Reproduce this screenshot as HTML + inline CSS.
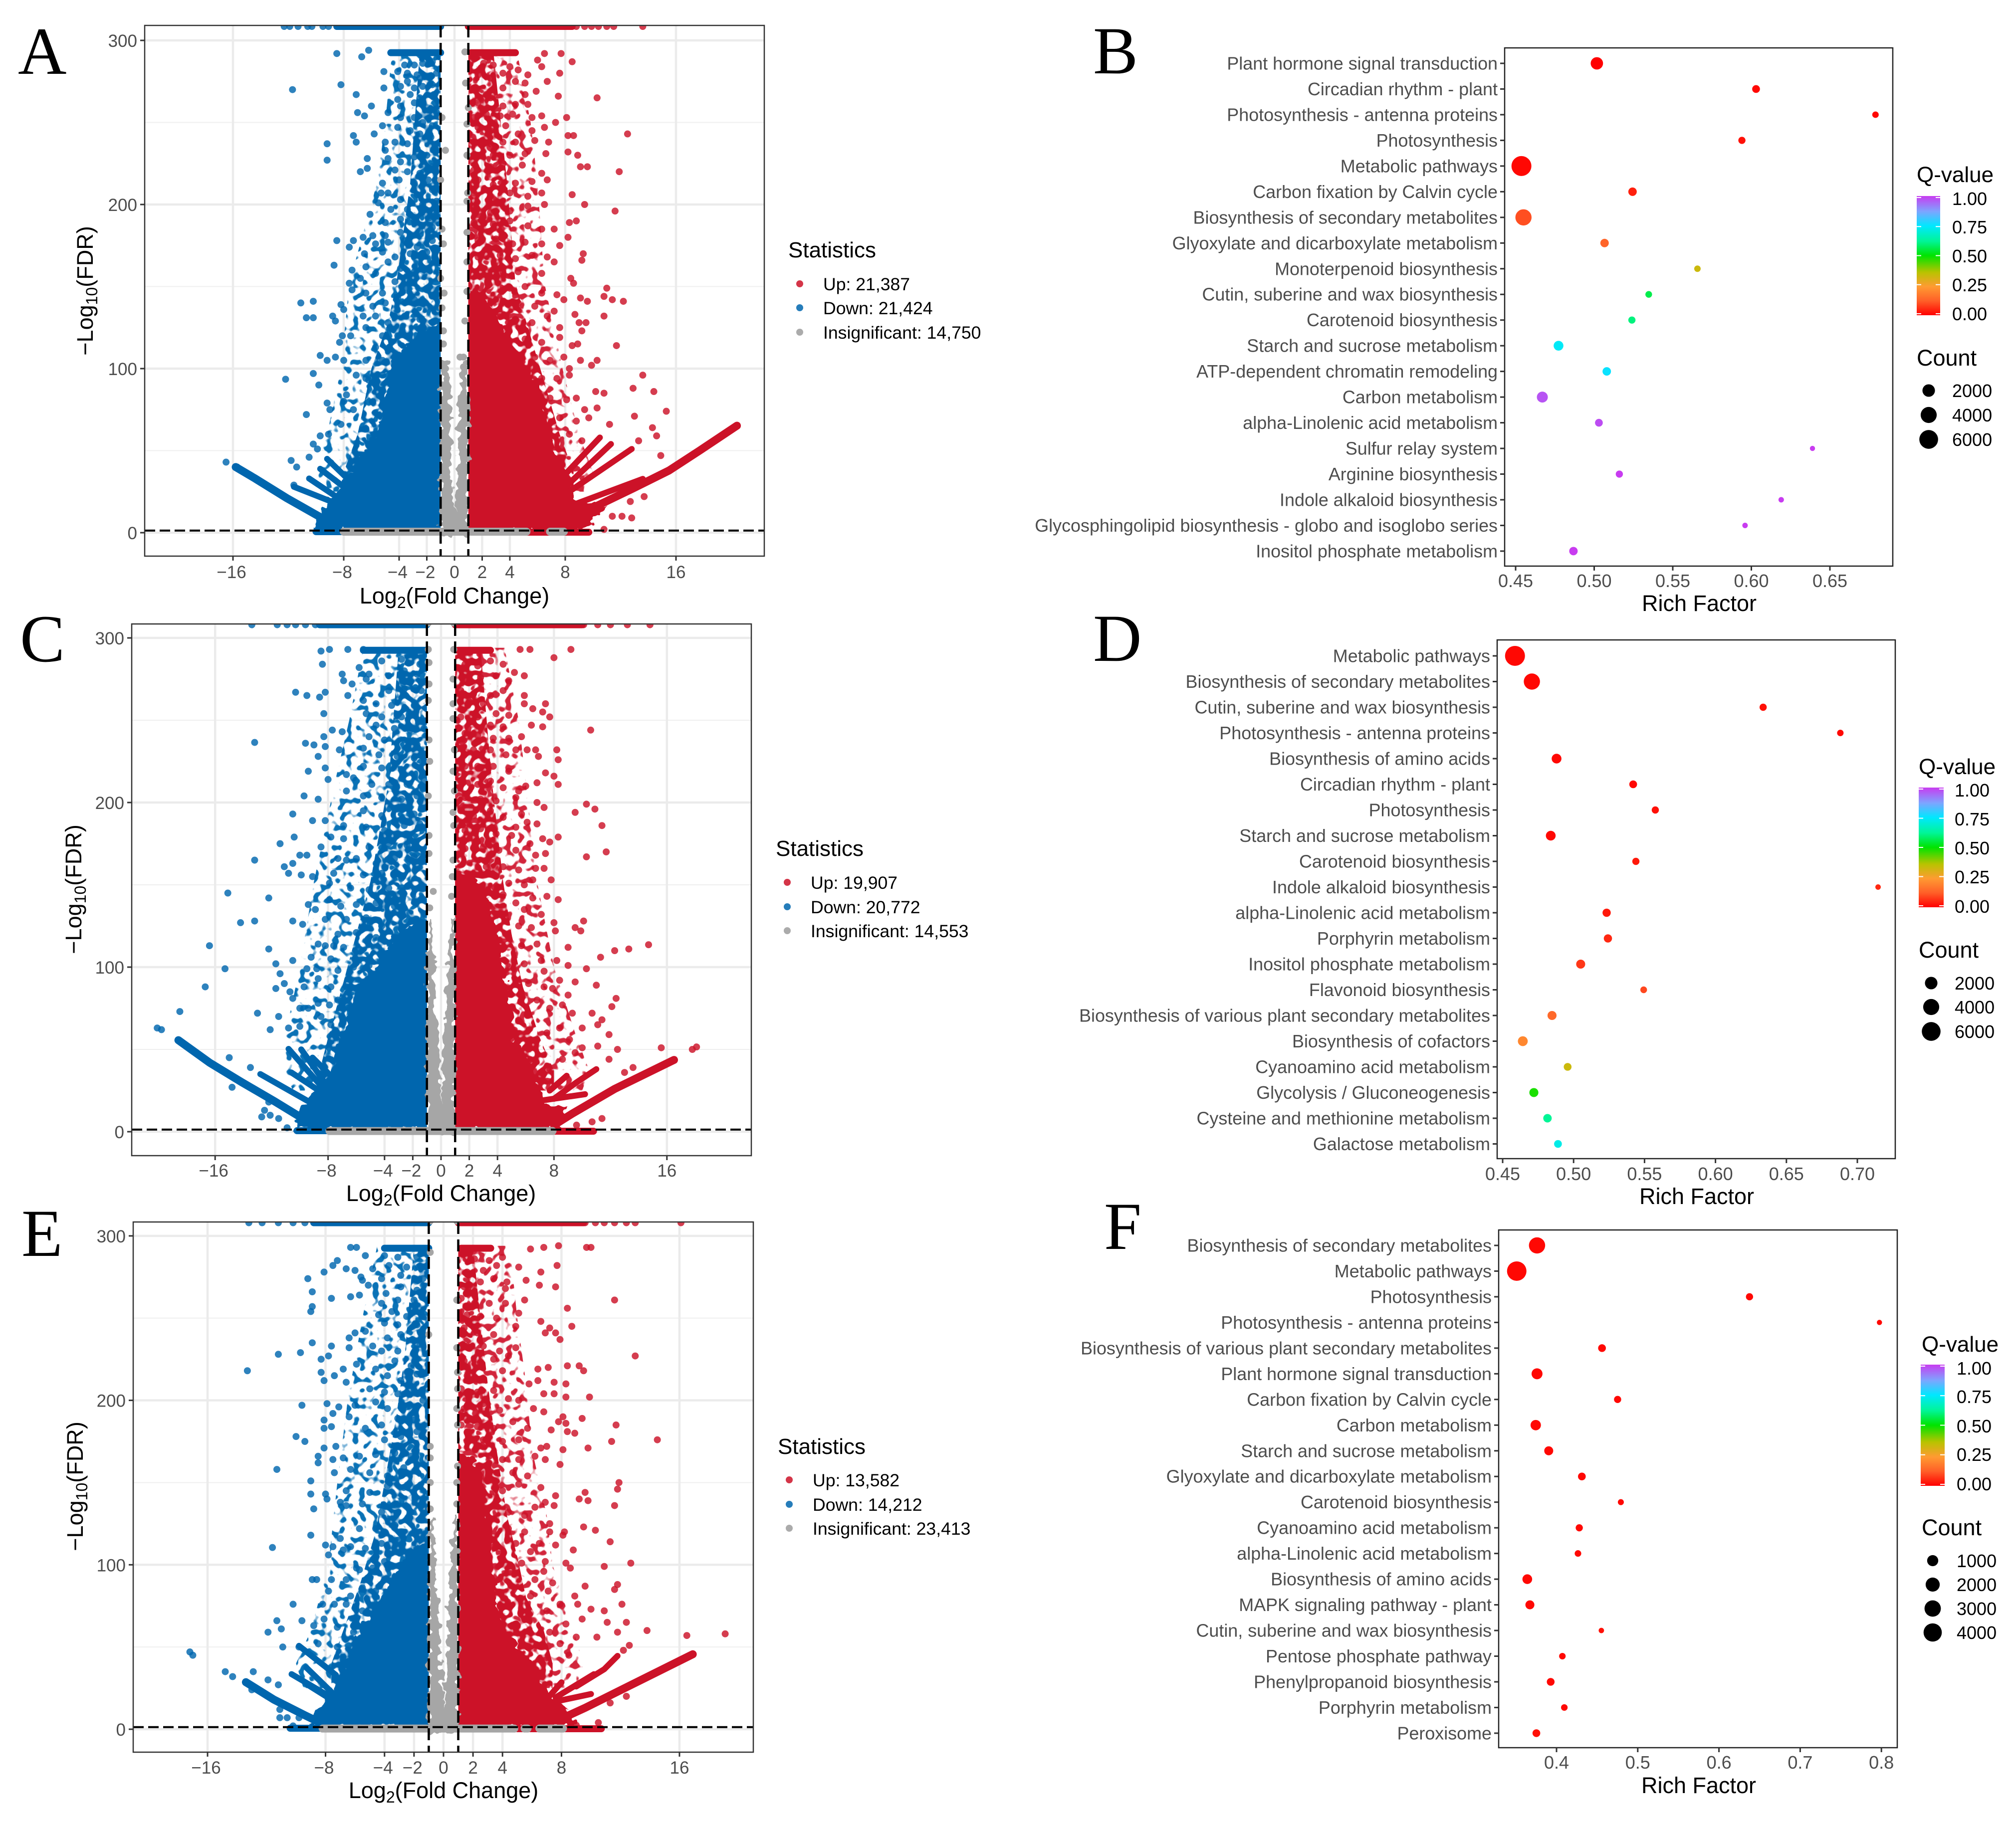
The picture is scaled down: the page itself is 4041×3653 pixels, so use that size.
<!DOCTYPE html>
<html lang="en">
<head>
<meta charset="utf-8">
<title>Volcano and KEGG enrichment panels</title>
<style>
html,body{margin:0;padding:0;background:#fff}
svg{display:block}
text{font-family:"Liberation Sans",Arial,sans-serif}
</style>
</head>
<body>
<svg id="fig" xmlns="http://www.w3.org/2000/svg" width="4041" height="3653" viewBox="0 0 4041 3653">
<rect width="4041" height="3653" fill="#fff"/>
<g font-size="135" fill="#000" style="font-family:'Liberation Serif',serif">
<text x="36" y="148" style="font-family:'Liberation Serif',serif">A</text>
<text x="2191" y="147" style="font-family:'Liberation Serif',serif">B</text>
<text x="40" y="1326" style="font-family:'Liberation Serif',serif">C</text>
<text x="2191" y="1325" style="font-family:'Liberation Serif',serif">D</text>
<text x="43" y="2518" style="font-family:'Liberation Serif',serif">E</text>
<text x="2213" y="2504" style="font-family:'Liberation Serif',serif">F</text>
</g>
</svg>
<script>
/* ===== volcano data (log2FC, -log10FDR pairs) ===== */
const volcanoXTicks=[-16,-8,-4,-2,0,2,4,8,16];
const volcanoYTicks=[0,100,200,300];
const volcanoYMinor=[50,150,250];

const aLegend=["Up: 21,387","Down: 21,424","Insignificant: 14,750"];
const cLegend=["Up: 19,907","Down: 20,772","Insignificant: 14,553"];
const eLegend=["Up: 13,582","Down: 14,212","Insignificant: 23,413"];

/* solid (fully over-plotted) regions */
const aDownSolid=[-.8,1.5,-.8,128,-3,120,-4.6,102,-4.9,87,-5.6,60,-7.5,37,-9.3,17,-10,6,-10.3,1.5];
const aUpSolid=[.8,1.5,.8,150,2.5,140,4,115,5.2,100,6.2,87,7.1,57,7.9,37,8.6,20,11,17,10,6.4,9.3,1.5];
const cDownSolid=[-.8,1.5,-.8,132,-3,122,-4.5,100,-5.9,87,-7.2,57,-7.7,37,-9.6,17,-10.2,7,-10.5,1.5];
const cUpSolid=[.8,1.5,.8,160,3,150,4,120,4.7,88,5.2,57,6.6,37,7.4,17,9,14,8.5,7,8.5,1.5];
const eDownSolid=[-.8,1.5,-.8,118,-2.5,105,-3.5,92,-4.3,80,-5.6,60,-6.6,40,-7.6,20,-8.8,10,-9.2,1.5];
const eUpSolid=[.8,1.5,.8,168,2.5,160,3,130,3.3,105,3.6,80,4.1,60,6.1,40,7.3,20,8.6,10,9,1.5];

/* mostly over-plotted regions */
const aDownMid=[-.8,294,-2.5,294,-3.2,213,-4.2,152,-4.8,128,-6,100,-7,60,-8,37,-8,25,-.8,25];
const aUpMid=[.8,294,2.8,294,3.8,213,4.4,152,5.2,128,6.2,100,7.6,60,8.6,37,8.6,25,.8,25];
const cDownMid=[-.8,294,-3,294,-3.7,213,-5,152,-6,120,-7,88,-8,57,-8.6,37,-8.6,25,-.8,25];
const cUpMid=[.8,294,2.8,294,3.6,213,4.4,152,5,120,5.8,88,7,57,8,37,8,25,.8,25];
const eDownMid=[-.8,294,-2,294,-2.6,230,-3.2,190,-4,150,-4.6,120,-5.6,90,-6.8,60,-7.6,40,-7.6,25,-.8,25];
const eUpMid=[.8,294,2,294,2.5,250,3,210,3.6,170,4.3,130,5,105,5.6,80,6.8,60,7.4,40,7.4,25,.8,25];

/* loosely scattered regions */
const aDownOuter=[-.8,294,-4.5,294,-5,250,-5.6,213,-7.6,152,-8.2,100,-9.2,60,-10,37,-9.5,25,-.8,25];
const aUpOuter=[.8,294,4.5,294,5.5,250,6,213,6.5,152,7.8,100,9,60,10,37,9.5,25,.8,25];
const cDownOuter=[-.8,294,-5.5,294,-6.5,250,-7.5,213,-9,152,-10,100,-11,60,-11,37,-10.5,25,-.8,25];
const cUpOuter=[.8,294,4.5,294,5.5,250,6,213,6.8,152,8,100,9.5,60,10.5,37,10,25,.8,25];
const eDownOuter=[-.8,294,-4.5,294,-5.5,250,-6.5,200,-7.2,150,-7.8,100,-9,60,-10,40,-9.5,25,-.8,25];
const eUpOuter=[.8,294,4.5,294,5,250,5.6,210,6,170,7,130,7.4,100,8.8,60,9.5,40,9,25,.8,25];

/* grey (insignificant) funnel */
const aGreyFunnel=[-1,-1.5,-1,90,-.9,105,-.5,105,-.32,87,-.29,47,-.14,27,0,13,.14,27,.29,47,.32,87,.5,105,.9,105,1,90,1,-1.5];
const cGreyFunnel=[-1,-1.5,-1,100,-.9,130,-.7,130,-.45,87,-.17,47,0,17,.17,47,.4,87,.7,130,.9,130,1,100,1,-1.5];
const eGreyFunnel=[-1,-1.5,-1,100,-.9,130,-.7,130,-.37,80,-.24,49,0,12,.24,49,.37,80,.7,130,.9,130,1,100,1,-1.5];

/* horizontal bands: clipped strip near the top, row at the FDR floor, row along y=0 */
const aDownBands=[[-8.5,308.5,-1,308.5],[-4.6,292.5,-1,292.5],[-10,.6,-8,.6]];
const aUpBands=[[1,308.5,8.5,308.5],[1.2,292.5,4.4,292.5],[5.2,.3,9.7,.3]];
const cDownBands=[[-8.6,308,-1,308],[-5.5,292.5,-1,292.5],[-10.2,.6,-8,.6]];
const cUpBands=[[1,308,10,308],[1.2,292.5,3.5,292.5],[5,.3,10.8,.3]];
const eDownBands=[[-8.8,308,-1,308],[-4,292.5,-1,292.5],[-10.4,.6,-8,.6]];
const eUpBands=[[1,308,9.5,308],[1.2,292.5,3.2,292.5],[5,.3,10.7,.3]];

const aGreyStrip=[[-8,.6,5.2,.6],[6.9,.6,7.9,.6]];
const cGreyStrip=[[-7.9,.4,7.9,.4]];
const eGreyStrip=[[-8.2,.4,4.8,.4],[5.5,.4,5.7,.4],[6.5,.4,8.1,.4]];

/* streaks at the bottom corners */
const aDownRays=[[-15.8,40,-14.4,33,-12.1,21,-9.8,10,-8.6,5],[-9.7,38.9,-7.5,24.7],[-9.2,45,-7.5,31],[-11.6,28,-8,16],[-10.5,33,-8.2,20]];
const aUpRays=[[20.4,65.2,17.7,50,15.5,37.9,12.9,27,10.2,16,8.5,8.6],[13.6,32.8,8.4,16.4],[12.8,51,7.9,22.8],[10.5,58,7.6,32],[11.3,54,7.9,27]];
const cDownRays=[[-18.6,55.6,-16.4,42,-14.1,30,-11.8,18.5,-9.6,7],[-12.8,35,-9.1,17],[-10.8,50.3,-8,23],[-9.9,50,-8,27],[-10.6,36,-8.3,23],[-9.1,45,-7.7,33]];
const cUpRays=[[16.5,43.6,12.3,26,9.3,11,8,4],[10.2,22.8,7.1,18.9],[11,38,9.6,30,8,20],[8.9,34,7.7,25]];
const eDownRays=[[-13.4,28.6,-11.5,18,-9.4,8.5,-8,2.4],[-10.3,33.5,-7.6,19.3],[-9.8,50.7,-7.3,33],[-9.3,37.5,-7.3,20],[-9.2,27,-7.6,18]];
const eUpRays=[[16.9,45.6,13.3,29.5,9.6,13,7.9,6],[10,21.4,7.3,16.3],[10.2,33.5,7.6,19.3],[8,28.5,7.1,19.3],[11.8,44.6,10.9,36.5,9,26]];

/* grey points hugging the thresholds */
const aGreyPts=[.75,293,.8,274,1,259,.9,249,-.9,253,-.65,233,.9,230,-1,215,.95,207,.9,202,-.9,185,.9,183,-.8,176,.9,165,-1,155,.9,147,-.75,146,-.9,137,.75,129,-.8,123,-.8,115,.65,107,.4,107,-.65,100,.65,101];
const cGreyPts=[-.9,309,.9,309,-.9,293,.9,293,-.85,285,-.85,272,.85,275,.85,260,-.9,262,.85,251,-.85,238,.95,232,-.8,225,.85,219,-.9,204,.95,207,.85,194,-.85,180,.9,186,-.85,169,.85,165,.8,155,-.55,146,.75,143,-.8,136];
const eGreyPts=[-.9,309,.9,309,-.9,290,-1,240,.9,261,.9,232,.95,217,.95,207,.9,195,.95,185,-.9,172,-.9,165,.95,160,.9,150,-.9,150,-.9,134,.9,137];

/* individually resolvable points */
const aDown=[-12.3,308.5,-11.9,308.5,-11.3,308.5,-10.6,308.5,-10.3,308.5,-9.5,308.5,-9.1,308.5,-11.7,270,-8.2,273,-8.5,292,-9.2,237,-9.2,227,-7.1,267,-7,256,-6.5,254,-6,260,-5.1,281,-5.1,271,-6.7,290,-6.2,294,-7.3,242,-7.1,238,-5.8,243,-6.8,220,-6.3,222,-6.3,228,-6.1,194,-5.5,201,-8.5,178,-8.7,163,-7.6,174,-7.3,178,-6.6,180,-7.4,160,-7.6,152,-7.4,148,-6.8,155,-11.1,140,-10.2,141,-10.7,131,-10.2,131,-8.8,132,-8.6,129,-8.2,139,-8,136,-8.1,120,-7.5,120,-9.7,108,-9.2,105,-8.6,107,-8,105,-8.3,116,-10.2,97,-12.2,93.5,-9.8,90,-9.2,79,-10.7,72,-9,75,-7.8,84,-7.1,96,-6.4,94,-8,80,-7.3,75,-8.2,66,-9.1,60,-9.7,59,-10.2,54,-9.9,51,-10.5,46,-11.8,44,-11.4,40,-11.6,29,-16.5,43,-15.7,40,
-3.6,285,-2.9,285,-2.3,286,-1.6,287,-3.4,280,-4.1,281,-2.7,279,-1.3,280,-2.5,277,-3.4,275,-3.9,272,-2.9,271,-2.3,272,-1.6,273,-4.1,264,-3.2,267,-2.5,265,-1.5,267,-3.9,260,-2.9,262,-4.8,256,-3.9,253,-2.9,253,-2.3,250,-1.3,256,-5.2,248,-4.1,247,-3.2,245,-2.5,243,-1.6,248,-5,238,-4.3,238,-3.4,237,-2.7,234,-1.7,241,-5,233,-4.8,228,-3.9,226,-2.9,229,-2,230,-1.3,233,-4.3,221,-3.4,220,-2.5,219,-1.6,223,-5.2,213,-4,215,-2.9,213,-1.9,215,-5.3,207,-4.8,207,-3.9,203,-2.7,206,-1.6,209,-4.6,197,-3.4,197,-2.3,200,-1.3,202,-5,189,-3.9,191,-2.9,190,-1.8,192,-5.9,181,-5,181,-3.9,183,-2.5,184,-1.6,186,-5.7,176,-4.8,177,-3.6,178,-2.7,174,-1.6,178,-6.5,170,-5.2,171,-4.3,168,-3.2,170,-2,171,-6.4,162,-5.7,158,-4.8,165,-3.9,161,-2.9,159,-6.4,146,-5.2,146,-4.3,153,-3.4,149,-5.9,138,-5,140,-4.1,143,-2.9,142,-6.6,132,-5.7,132,-4.8,128,-3.6,132,-2.5,130,-6.4,125,-5.2,120,-4.1,120,-5.7,113,-4.7,113,-6.4,105,-5.2,105,-4.3,107,-6.2,93,-5.2,96];

const aUp=[8.8,308.5,9.4,308.5,9.9,308.5,10.4,308.5,11,308.5,11.5,308.5,13.6,308.5,10.3,265,12.5,243,11.9,220,11.6,196,9.4,200,8.5,206,8.5,287,7.7,292,6.5,292,7.5,266,6.7,275,7.6,280,6.3,284,6,288,5.9,269,8.1,253,7.3,250,8.2,242,8.6,242,8.2,232,8.9,230,9.1,223,9.6,223,6.6,231,6.8,238,6.5,247,6.3,254,8.8,190,8.3,189,8.2,180,7.2,185,9.3,170,9.2,166,8.4,155,8.6,152,11,149,10.8,144,11.4,142,12.2,141,9.1,143,9.6,141,10.8,132,8.7,133,9.5,128,9,128,9.2,123,11.7,114,8.9,115,8.5,114,10.3,105,9.9,102,9.1,105,8.3,100,13.6,96,12.9,88,14.4,86,10.8,85,10.2,86,15.3,74,13,71,11.2,66,14.3,64,14.6,59,13.3,56,14.9,47,13.7,22,12.7,19,12.8,9,12.1,10,11.4,10,10.8,2,9.4,75,8.8,82,10.3,76,
1.4,289,2.1,286,2.8,285,4,284,4.6,282,5.3,279,1.7,279,2.6,277,3.5,280,4.4,275,5.1,274,1.4,271,2.3,267,3.5,271,5.1,267,1.7,262,2.6,265,3.5,260,4.4,261,5.3,261,1.4,253,2.3,255,3.3,254,4.2,255,5.6,253,1.7,247,2.6,245,3.7,248,4.6,243,5.6,245,1.4,238,2.6,237,3.5,238,4.4,238,5.8,239,1.7,230,2.8,230,4,230,5.1,231,1.4,221,2.6,223,3.5,225,4.9,224,6.3,219,1.7,215,2.8,212,4.4,213,5.6,214,6.7,215,1.4,207,2.6,205,4,207,5.3,205,6.3,207,1.4,197,2.6,195,4,196,5.3,199,6.5,200,1.4,189,2.8,188,4,190,5.3,187,6.3,185,1.7,178,3,179,4.2,176,5.1,177,6.3,176,7.6,175,1.7,168,3.3,169,4.4,167,5.6,169,6.7,168,3.5,159,4.6,159,6.3,158,7.2,165,4,149,5.1,150,6.3,146,7.4,145,3.5,141,4.6,140,5.8,138,7.2,135,7.9,142,4.4,130,5.6,128,6.7,132,7.6,125,5.1,118,6.3,116,7.6,119,5.8,107,6.9,105,7.9,107,6.3,94,7.4,94,8.3,96,6.9,82,8.1,81,7.6,70,8.8,68,9.7,70,8.3,60,9.2,56];

const cDown=[-13.4,308,-11.6,308,-10.9,308,-10.3,308,-9.6,308,-8.9,308,-13.2,236.5,-10.3,267,-9.5,265,-8.6,264,-8.2,267,-8.4,284,-8.5,292,-7.9,293,-6.6,293,-5.5,293,-7,278,-6.9,274,-6.3,272,-6.6,265,-5.8,282,-5.3,275,-8.3,254,-8.3,240,-7.7,244,-7,243,-9.6,236,-9,235,-8.7,228,-8.2,234,-7.2,232,-9.4,219,-8.2,221,-8,214,-6.7,217,-9.7,204,-8.7,202,-10.5,193,-9.1,189,-8.2,189,-6.9,186,-10.4,179,-11.4,175,-8.5,173,-7.8,179,-6.9,178,-13.2,165,-10,168,-9.5,168,-10.5,163,-11.1,161,-10.8,157,-9.9,156,-9.1,155,-7.6,157,-7.3,166,-6.7,165,-15.1,145,-12.2,142,-14.2,127,-13.2,128,-10.5,128,-9.4,138,-8.9,135,-7.9,151,-7.1,137,-7.9,141,-9.8,126,-8.2,129,-16.4,113,-12.2,111,-8.7,114,-8.2,113,-7.6,113,-10.5,104,-11.7,102,-15.3,99,-16.7,88,-9.2,106,-9.5,99,-8.8,99,-7.8,105,-11.4,96,-11.1,90,-11.7,87,-10.7,85,-10.5,81,-9.7,88,-8.7,93,-18.5,73,-13,72,-11.5,70,-10,75,-9.4,75,-8.7,78,-7.9,77,-12.1,62,-10.8,63,-10,64,-15,45,-13.5,39,-14.8,27,-12.7,9,-12.1,10,-11.5,8,-10.9,2.4,-12.5,13,-12.2,18,-20.1,63,-19.8,62,
-4.2,286,-2.8,287,-1.5,284,-5.1,278,-3.7,277,-2.6,280,-1.7,278,-3.7,268,-2.6,269,-1.4,268,-5.5,262,-4.6,260,-3.5,259,-1.9,259,-5.3,254,-4.2,252,-2.8,252,-1.5,250,-4.6,247,-3.3,245,-2.2,244,-1.2,245,-5.1,240,-4,238,-2.6,238,-1.7,235,-5.5,233,-4.4,229,-3.1,228,-1.9,227,-5.5,222,-4.2,221,-2.8,220,-1.5,221,-6.2,215,-4.9,211,-3.7,211,-2.4,211,-1.2,213,-6.7,207,-5.5,204,-4.2,203,-2.8,202,-1.7,204,-5.5,195,-4.2,192,-3.1,196,-1.9,193,-5.3,185,-4,183,-2.6,186,-1.5,187,-5.1,173,-3.7,175,-2.4,174,-6,166,-4.6,163,-3.3,166,-1.9,167,-5.5,156,-4.2,157,-2.8,154,-6.4,148,-5.1,147,-3.7,148,-2.4,149,-6,138,-4.6,139,-3.3,137,-6.7,129,-5.3,130,-4.2,125,-7.3,120,-6,121,-4.6,118,-6.9,112,-5.8,111,-6.2,100,-7.3,98,-5.1,101,-6.7,88,-7.8,88,-7.3,80,-8.5,70,-7.8,65];

const cUp=[10.1,308,11.1,308,12,308,13.2,308,14.8,308,9.2,293,8,288,10.6,244,7.4,260,6.5,257,7.2,255,7.7,252,5.9,260,5.9,265,5.9,277,5.2,279,6.3,293,5.6,293,7.2,246,6.4,247,5.7,240,8.2,232,8.3,226,6.1,232,6.7,232,6.9,228,7.4,218,8,216,8.3,211,6.8,212,6,210,6.8,200,7.3,197,10.3,199,10.9,196,9.5,194,11.4,186,5.3,185,6.1,188,6.8,187,7.2,178,8.3,179,7.7,176,6.3,175,11.7,170,10.3,167,7.4,169,6.7,168,6.7,160,7.3,160,7.8,153,6.5,153,8.3,141,7.5,143,6.5,142,8,127,7.1,132,10.1,128,9.5,124,9.9,122,8.1,122,14.7,113.6,13.3,111,12.3,110,11.3,106,9,112,8.2,104,9,101,10.3,99,7.3,97.5,9.5,91,11,89,7.9,87,9,83,12.4,81,12.1,76,10.7,72,9.3,72,11.4,68,11.1,65,10,63,11.9,59,15.6,51,17.8,50,18.1,51.5,12.5,50,11.1,52,10,51,11.9,44,13,36,13.6,39,11.4,8,10.7,6,9.6,4,
1.7,284,2.6,283,3.5,286,4.4,284,1.7,276,2.8,276,3.9,277,4.8,274,1.4,268,2.3,266,3.5,265,4.4,268,1.9,259,3,260,3.9,254,4.8,253,1.4,252,2.6,252,3.5,247,4.4,246,1.7,242,2.6,241,3.7,239,4.8,239,1.4,233,2.3,232,3.5,232,4.6,229,5.3,232,1.7,222,2.6,222,3.7,222,4.8,219,1.4,213,2.6,211,3.5,213,4.4,209,5.5,207,1.7,203,2.8,202,3.9,201,5.3,203,1.4,195,2.3,192,3.5,195,4.4,191,5.7,193,1.7,183,2.8,184,3.9,181,5,180,1.7,172,3,173,4.1,171,5.3,171,3.2,161,4.4,161,5.5,159,4.8,151,5.9,150,4.4,144,5.3,139,5.9,135,6.4,124,5.5,125,6.8,114,5.7,113,5.9,102,7.1,104,6.2,90,7.3,88,8.4,92,6.8,80,7.7,75,8.6,77,8.4,63,7.5,60,9.1,56,9.5,48,8.6,44];

const eDown=[-13.2,308,-12.3,308,-11.2,308,-10.2,308,-9.4,308,-13.3,218,-11.2,228,-9.7,229,-8.9,235,-9.2,274,-8.9,266,-8.9,257,-9,254,-8.1,278,-7.5,282,-7.2,285,-7.6,262,-6.3,263,-5.7,264,-6.6,280,-6,279,-5.6,275,-5.1,270,-8.3,225,-7.8,227,-7.6,233,-6.4,238,-6.4,232,-6,241,-6.8,219,-5.9,222,-8.3,217,-8.1,212,-7.4,215,-6.6,211,-9.6,197,-7.9,198,-7.1,196,-6,197,-8.1,188,-7.5,192,-6.4,190,-8.1,183,-7.6,184,-10,178,-9.4,175,-8.1,171,-7.3,172,-11.3,158,-8.5,166,-8.5,162,-7.5,164,-7.4,156,-6.8,165,-6.3,158,-9,151,-9,143,-8,143,-7.9,140,-8.8,134,-7,138,-6.6,136,-6.6,145,-9,118,-11.6,110.5,-8,112,-7.5,111,-7.8,106,-7,116,-6.3,111,-6.8,109,-8.9,91,-8.6,91,-7.6,91,-7.8,84,-6.6,91,-5.7,97,-10.2,76,-8.2,76,-7.4,76,-6.3,81,-11.3,66,-11,61,-11.9,59,-9.6,66,-8.8,63,-8.1,67,-7.2,62,-17.2,47,-17,45,-10.9,50,-9.8,50,-8.5,52,-14.8,35,-14.3,32,-12.9,35,-11.9,30,-11.2,27,-13,24,-11.1,12,-11.1,7,-10.6,7,-9.8,7,-10.2,2,
-6.3,293,-5.9,293,-5.3,288,-4,288,-3.1,287,-1.8,287,-4.8,280,-3.7,282,-2.5,281,-1.7,281,-5.5,273,-4.2,274,-2.9,276,-1.4,274,-3.9,265,-2.9,269,-1.8,267,-4.2,259,-3.1,261,-2,261,-4.4,252,-3.5,254,-2.5,251,-1.4,251,-4,247,-3.1,246,-1.8,246,-5.3,242,-3.8,238,-2.9,240,-1.6,234,-4.8,233,-4.2,230,-3.1,230,-2,228,-3.3,224,-2.2,221,-4.6,219,-3.8,215,-2.9,212,-1.8,216,-5,207,-4,205,-3.1,204,-2,206,-4.6,199,-3.8,195,-2.5,196,-1.4,200,-5.3,183,-4.2,185,-3.1,189,-2,188,-4,176,-2.9,178,-1.8,181,-5.7,166,-4.6,167,-3.3,168,-2.2,166,-5,156,-3.8,154,-2.7,159,-1.8,161,-5,144,-3.8,148,-2.7,147,-5.5,137,-4.2,132,-3.1,137,-2.2,132,-5.7,122,-4.6,122,-3.3,124,-5.3,110,-4.2,113,-3.1,115,-5.9,98,-4.8,98,-4,102,-5.5,86,-4.6,84,-6.6,76,-5.5,72,-6.1,59,-7.2,50];

const eUp=[9.6,308,10.3,308,10.9,308,11.6,308,12.4,308,13,308,16.1,308,19.1,58,16.5,57,13.8,60,11.6,261,13,227,14.5,176,11.7,185,11.4,175,9.8,171,8.4,256,8.7,245,7.2,244,7.6,241,7.9,237,6.9,241,6.6,248,7.7,282,6.6,278,7.6,269,6.5,270,5.6,273,10,293,9.7,293,7.8,294,6.8,293,5.9,292,5.1,281,4.3,272,5.5,261,5.1,253,9.2,221,9.5,218,8.4,221,6.4,219,7.1,220,5.8,210,6.4,212,7.5,211,8.3,210,6.8,204,7.5,204,8.3,202,9.9,202,6.1,195,6.8,193,8.1,190,9.4,189,7.8,187,8.3,186,8.4,181,8.9,180,7.3,182,6.6,171,7,172,8.1,170,6.9,164,7.9,161,11.9,150,11.8,146,11.6,136,9.6,144,9.2,140,9.8,139,7.6,142,6.6,147,6.9,138,7.5,136,7.2,125,7.2,120,8.2,120,8.1,118,9.5,123,10.3,121,11.3,114,7.6,112,6.5,113,8.8,109,12.7,101,10.9,99,8.3,101,8.6,98,6.9,102,6.8,96,11.8,88,11.6,85,9.6,87,7.4,89,8.9,81,7.1,84,12.1,76,10.9,72,9.1,76,10,73,12.4,65,11.1,65,11.8,59,9.4,67,8.3,64,10.4,56,12.6,51,12.2,48,9,56,10.5,4,9,2.4,11.3,16,12.4,20,
2.1,286,3.1,285,4,287,1.6,278,2.7,279,3.6,282,1.4,269,2.5,272,3.4,274,4.2,268,1.2,262,2.1,259,3.1,259,4.2,259,1.6,252,2.5,251,3.6,250,4.9,245,1.4,244,2.3,241,3.4,240,1.6,233,2.7,233,3.8,230,4.9,232,1.4,224,2.5,223,3.4,225,4.4,227,1.6,215,2.7,213,4,218,1.2,207,2.3,205,3.4,206,4.4,201,1.4,195,2.7,198,3.8,194,5.1,200,1.2,185,2.3,184,3.4,183,4.7,187,5.7,183,1.6,175,2.7,176,4,175,5.1,176,3.1,166,4,164,5.1,164,6.2,166,3.6,156,4.7,156,5.7,154,4,145,5.1,149,3.6,139,4.4,132,5.5,130,6.2,135,4.4,122,5.5,120,4.9,113,5.9,108,5.3,101,6.2,91,5.9,81,7,72,7.9,76,7.2,59,7.9,52,8.5,45];

/* ===== enrichment dot-plot data ===== */
const bTerms=["Plant hormone signal transduction","Circadian rhythm - plant","Photosynthesis - antenna proteins","Photosynthesis","Metabolic pathways","Carbon fixation by Calvin cycle","Biosynthesis of secondary metabolites","Glyoxylate and dicarboxylate metabolism","Monoterpenoid biosynthesis","Cutin, suberine and wax biosynthesis","Carotenoid biosynthesis","Starch and sucrose metabolism","ATP-dependent chromatin remodeling","Carbon metabolism","alpha-Linolenic acid metabolism","Sulfur relay system","Arginine biosynthesis","Indole alkaloid biosynthesis","Glycosphingolipid biosynthesis - globo and isoglobo series","Inositol phosphate metabolism"];
const bRich=[.5017,.603,.679,.594,.4537,.5244,.455,.5066,.5657,.5347,.524,.4773,.508,.467,.503,.6389,.516,.619,.596,.4868];
const bQ=[0,.01,.01,.02,.01,.04,.1,.13,.33,.56,.6,.74,.76,.97,.98,1,1,1,1,1];
const bCount=[1930,395,170,280,7000,550,4100,550,170,200,280,920,550,1340,395,40,280,60,60,550];
const bRichTicks=[.45,.5,.55,.6,.65];

const dTerms=["Metabolic pathways","Biosynthesis of secondary metabolites","Cutin, suberine and wax biosynthesis","Photosynthesis - antenna proteins","Biosynthesis of amino acids","Circadian rhythm - plant","Photosynthesis","Starch and sucrose metabolism","Carotenoid biosynthesis","Indole alkaloid biosynthesis","alpha-Linolenic acid metabolism","Porphyrin metabolism","Inositol phosphate metabolism","Flavonoid biosynthesis","Biosynthesis of various plant secondary metabolites","Biosynthesis of cofactors","Cyanoamino acid metabolism","Glycolysis / Gluconeogenesis","Cysteine and methionine metabolism","Galactose metabolism"];
const dRich=[.4587,.4706,.6336,.688,.488,.542,.5576,.4839,.5439,.7146,.5233,.5242,.505,.5494,.4848,.4642,.4958,.472,.4816,.489];
const dQ=[.01,.01,.02,.01,.01,.01,.02,.01,.03,.05,.03,.05,.07,.09,.14,.2,.33,.48,.62,.72];
const dCount=[7000,4100,280,170,920,395,280,920,280,60,500,500,700,200,700,950,395,700,550,395];
const dRichTicks=[.45,.5,.55,.6,.65,.7];

const fTerms=["Biosynthesis of secondary metabolites","Metabolic pathways","Photosynthesis","Photosynthesis - antenna proteins","Biosynthesis of various plant secondary metabolites","Plant hormone signal transduction","Carbon fixation by Calvin cycle","Carbon metabolism","Starch and sucrose metabolism","Glyoxylate and dicarboxylate metabolism","Carotenoid biosynthesis","Cyanoamino acid metabolism","alpha-Linolenic acid metabolism","Biosynthesis of amino acids","MAPK signaling pathway - plant","Cutin, suberine and wax biosynthesis","Pentose phosphate pathway","Phenylpropanoid biosynthesis","Porphyrin metabolism","Peroxisome"];
const fRich=[.376,.351,.6376,.7976,.456,.376,.4752,.3744,.3904,.4312,.4792,.428,.4264,.364,.3672,.4552,.4072,.3928,.4096,.3752];
const fQ=[.01,.01,.01,.01,.01,.01,.01,.01,.01,.01,.01,.01,.01,.01,.01,.02,.01,.01,.01,.02];
const fCount=[2950,4700,200,30,280,950,200,800,490,280,80,200,130,650,490,40,130,280,130,280];
const fRichTicks=[.4,.5,.6,.7,.8];

const qTicks=[1,.75,.5,.25,0];
const bdCountKeys=[2000,4000,6000];
const fCountKeys=[1000,2000,3000,4000];

/* ===== drawing ===== */
const NS='http://www.w3.org/2000/svg';
const root=document.getElementById('fig');
const INK='#4d4d4d',RED='#cc1228',BLUE='#0066ae',GREY='#a6a6a6';

function mk(tag,attrs,parent,txt){
  const el=document.createElementNS(NS,tag);
  for(const k in attrs)el.setAttribute(k,attrs[k]);
  if(txt!==undefined)el.textContent=txt;
  parent.appendChild(el);
  return el;
}
function pointsOf(flat,sx,sy){
  const out=[];
  for(let i=0;i+1<flat.length;i+=2)out.push(sx(flat[i]).toFixed(1)+','+sy(flat[i+1]).toFixed(1));
  return out.join(' ');
}
/* texture for over-plotted regions: region outlines come from the data arrays */
function texture(p,name,seed,freq,slope,offset){
  const f=mk('filter',{id:name,filterUnits:'userSpaceOnUse',x:p.l,y:p.t,width:p.r-p.l,height:p.b-p.t,'color-interpolation-filters':'sRGB'},root);
  mk('feTurbulence',{type:'fractalNoise',baseFrequency:freq,numOctaves:1,seed:seed,result:'n'},f);
  mk('feColorMatrix',{in:'n',type:'matrix',values:'0 0 0 0 0 0 0 0 0 0 0 0 0 0 0 '+slope+' 0 0 0 '+offset,result:'m'},f);
  mk('feComposite',{in:'SourceGraphic',in2:'m',operator:'in'},f);
}
function roughen(p,name,seed){
  const f=mk('filter',{id:name,filterUnits:'userSpaceOnUse',x:p.l,y:p.t,width:p.r-p.l,height:p.b-p.t,'color-interpolation-filters':'sRGB'},root);
  mk('feTurbulence',{type:'fractalNoise',baseFrequency:.06,numOctaves:2,seed:seed,result:'n'},f);
  mk('feDisplacementMap',{in:'SourceGraphic',in2:'n',scale:26,xChannelSelector:'R',yChannelSelector:'G'},f);
}

function drawVolcano(p){
  const sx=v=>p.x0+v*p.kx, sy=v=>p.y0-v*p.ky;
  const g=mk('g',{},root);
  
  
  const clip=mk('clipPath',{id:'clip-'+p.id},g);
  mk('rect',{x:p.l,y:p.t,width:p.r-p.l,height:p.b-p.t},clip);
  const clipL=mk('clipPath',{id:'clipL-'+p.id},g);
  mk('rect',{x:p.l,y:p.t,width:sx(-1)-p.l,height:p.b-p.t},clipL);
  const clipR=mk('clipPath',{id:'clipR-'+p.id},g);
  mk('rect',{x:sx(1),y:p.t,width:p.r-sx(1),height:p.b-p.t},clipR);
  texture(p,'mid-'+p.id,p.seed,.075,12,-4.9);
  texture(p,'outer-'+p.id,p.seed+1,.075,12,-6.5);
  roughen(p,'rough-'+p.id,p.seed+2);

  volcanoYMinor.forEach(v=>{
    const el=mk('line',{x1:p.l,x2:p.r,y1:sy(v),y2:sy(v),stroke:'#efefef','stroke-width':2},g);
    
    
  });
  volcanoYTicks.forEach(v=>{
    const el=mk('line',{x1:p.l,x2:p.r,y1:sy(v),y2:sy(v),stroke:'#ebebeb','stroke-width':4.5},g);
    
    
  });
  volcanoXTicks.forEach(v=>{
    const el=mk('line',{x1:sx(v),x2:sx(v),y1:p.t,y2:p.b,stroke:'#ebebeb','stroke-width':4.5},g);
    
    
  });

  const marks=mk('g',{'clip-path':'url(#clip-'+p.id+')'},g);
  
  

  [[p.downOuter,p.downMid,p.downSolid,BLUE,'#0a72b6','down','clipL-'],[p.upOuter,p.upMid,p.upSolid,RED,'#d2263c','up','clipR-']].forEach(s=>{
    const side=mk('g',{'clip-path':'url(#'+s[6]+p.id+')'},marks);
    
    
    const o=mk('polygon',{points:pointsOf(s[0],sx,sy),fill:s[4],filter:'url(#outer-'+p.id+')'},side);
    
    
    const m=mk('polygon',{points:pointsOf(s[1],sx,sy),fill:s[3],filter:'url(#mid-'+p.id+')'},side);
    
    
    const d=mk('polygon',{points:pointsOf(s[2],sx,sy),fill:s[3],filter:'url(#rough-'+p.id+')'},side);
    
    
  });
  [[p.downRays,BLUE],[p.upRays,RED]].forEach(s=>{
    s[0].forEach((ray,i)=>{
      const el=mk('polyline',{points:pointsOf(ray,sx,sy),fill:'none',stroke:s[1],'stroke-width':i===0?16:12,'stroke-linecap':'round','stroke-linejoin':'round'},marks);
      
      
    });
  });
  [[p.downBands,BLUE],[p.upBands,RED]].forEach(s=>{
    s[0].forEach(b=>{
      const el=mk('line',{x1:sx(b[0]),y1:sy(b[1]),x2:sx(b[2]),y2:sy(b[3]),stroke:s[1],'stroke-width':14,'stroke-linecap':'round'},marks);
      
      
    });
  });
  [[p.down,'#0066ae','down-point'],[p.up,'#cc1228','up-point']].forEach(s=>{
    for(let i=0;i+1<s[0].length;i+=2){
      const el=mk('circle',{cx:sx(s[0][i]),cy:sy(s[0][i+1]),r:7,fill:s[1],'fill-opacity':.82},marks);
      
      
    }
  });
  const fun=mk('polygon',{points:pointsOf(p.greyFunnel,sx,sy),fill:GREY,filter:'url(#rough-'+p.id+')'},marks);
  
  
  p.greyStrip.forEach(b=>{
    const el=mk('line',{x1:sx(b[0]),y1:sy(b[1]),x2:sx(b[2]),y2:sy(b[3]),stroke:GREY,'stroke-width':16,'stroke-linecap':'round'},marks);
    
    
  });
  for(let i=0;i+1<p.greyPts.length;i+=2){
    const el=mk('circle',{cx:sx(p.greyPts[i]),cy:sy(p.greyPts[i+1]),r:7,fill:GREY},marks);
    
    
  }

  [-1,1].forEach(v=>{
    const el=mk('line',{x1:sx(v),x2:sx(v),y1:p.t,y2:p.b,stroke:'#000','stroke-width':4.5,'stroke-dasharray':'24 11'},g);
    
    
  });
  const h=mk('line',{x1:p.l,x2:p.r,y1:sy(1.3),y2:sy(1.3),stroke:'#000','stroke-width':4,'stroke-dasharray':'21 9'},g);
  
  

  const fr=mk('rect',{x:p.l,y:p.t,width:p.r-p.l,height:p.b-p.t,fill:'none',stroke:'#333','stroke-width':2.5},g);
  
  

  volcanoXTicks.forEach(v=>{
    const t=mk('line',{x1:sx(v),x2:sx(v),y1:p.b,y2:p.b+9,stroke:'#333','stroke-width':3},g);
    
    
    const lab=mk('text',{x:sx(v)-(v<0?3:0),y:p.xTickY,'text-anchor':'middle','font-size':35,fill:INK},g,v<0?'\u2212'+(-v):String(v));
    
    
  });
  volcanoYTicks.forEach(v=>{
    const t=mk('line',{x1:p.l-9,x2:p.l,y1:sy(v),y2:sy(v),stroke:'#333','stroke-width':3},g);
    
    
    const lab=mk('text',{x:p.l-15,y:sy(v)+13,'text-anchor':'end','font-size':35,fill:INK},g,String(v));
    
    
  });

  const xt=mk('text',{x:p.x0,y:p.xTitleY,'text-anchor':'middle','font-size':45,fill:'#000'},g);
  
  
  mk('tspan',{},xt,'Log');
  mk('tspan',{dy:9,'font-size':32},xt,'2');
  mk('tspan',{dy:-9},xt,'(Fold Change)');

  const yt=mk('text',{x:0,y:0,transform:'translate('+p.yTitleX+','+p.yTitleY+') rotate(-90)','text-anchor':'middle','font-size':45,fill:'#000'},g);
  
  
  mk('tspan',{},yt,'\u2212Log');
  mk('tspan',{dy:9,'font-size':32},yt,'10');
  mk('tspan',{dy:-9},yt,'(FDR)');

  const title=mk('text',{x:p.legX,y:p.legTitleY+16,'font-size':44,fill:'#000'},g,'Statistics');
  
  
  [RED,BLUE,GREY].forEach((c,i)=>{
    const d=mk('circle',{cx:p.legX+23,cy:p.legY[i],r:7,fill:c,'fill-opacity':i===2?.95:.85},g);
    
    
    const t=mk('text',{x:p.legX+70,y:p.legY[i]+13,'font-size':35.6,fill:'#000'},g,p.legend[i]);
    
    
  });
}

const qStops=[[0,[255,0,0]],[.12,[255,95,40]],[.24,[255,155,50]],[.36,[185,195,0]],[.5,[0,228,0]],[.62,[0,245,150]],[.75,[0,232,255]],[.87,[125,165,255]],[1,[200,60,240]]];
function qColor(q){
  for(let i=1;i<qStops.length;i++){
    if(q<=qStops[i][0]){
      const a=qStops[i-1],b=qStops[i],f=(q-a[0])/(b[0]-a[0]);
      return 'rgb('+a[1].map((c,j)=>Math.round(c+(b[1][j]-c)*f)).join(',')+')';
    }
  }
  return 'rgb(200,60,240)';
}

function drawDots(p){
  const sx=v=>p.x45+(v-p.xRef)*p.kx;
  const sy=i=>p.row0+i*p.rowStep;
  const rad=c=>4+16*Math.sqrt(c/p.cMax);
  const g=mk('g',{},root);
  
  
  const fr=mk('rect',{x:p.l,y:p.t,width:p.r-p.l,height:p.b-p.t,fill:'#fff',stroke:'#222','stroke-width':2.5},g);
  
  
  p.terms.forEach((term,i)=>{
    const t=mk('line',{x1:p.l-9,x2:p.l,y1:sy(i),y2:sy(i),stroke:'#333','stroke-width':3},g);
    
    
    const lab=mk('text',{x:p.l-14,y:sy(i)+12.5,'text-anchor':'end','font-size':35.9,fill:INK},g,term);
    
    
    const d=mk('circle',{cx:sx(p.rich[i]),cy:sy(i),r:rad(p.count[i]),fill:qColor(p.q[i])},g);
    
    
  });
  p.ticks.forEach(v=>{
    const t=mk('line',{x1:sx(v),x2:sx(v),y1:p.b,y2:p.b+9,stroke:'#333','stroke-width':3},g);
    
    
    const lab=mk('text',{x:sx(v),y:p.xTickY,'text-anchor':'middle','font-size':36,fill:INK},g,v.toFixed(p.tickDp));
    
    
  });
  const xt=mk('text',{x:p.xTitleX,y:p.xTitleY,'text-anchor':'middle','font-size':45,fill:'#000'},g,'Rich Factor');
  
  

  const qt=mk('text',{x:p.legX,y:p.qTitleY+16,'font-size':44,fill:'#000'},g,'Q-value');
  
  
  const gradId='grad-'+p.id;
  const lg=mk('linearGradient',{id:gradId,x1:0,y1:1,x2:0,y2:0},g);
  qStops.forEach(s=>{mk('stop',{offset:s[0],'stop-color':'rgb('+s[1].join(',')+')'},lg);});
  const bar=mk('rect',{x:p.barX,y:p.barT,width:p.barW,height:p.barB-p.barT,fill:'url(#'+gradId+')'},g);
  
  
  qTicks.forEach((v,i)=>{
    const yy=p.barB-3-v*(p.barB-p.barT-6);
    const a=mk('line',{x1:p.barX,x2:p.barX+9,y1:yy,y2:yy,stroke:'#fff','stroke-width':2},g);
    
    
    const b=mk('line',{x1:p.barX+p.barW-9,x2:p.barX+p.barW,y1:yy,y2:yy,stroke:'#fff','stroke-width':2},g);
    
    
    const lab=mk('text',{x:p.barLabX,y:p.qLabY[i]+13,'font-size':36,fill:'#000'},g,v.toFixed(2));
    
    
  });
  const ct=mk('text',{x:p.legX,y:p.cTitleY+16,'font-size':45,fill:'#000'},g,'Count');
  
  
  p.keys.forEach((k,i)=>{
    const d=mk('circle',{cx:p.keyX,cy:p.keyY[i],r:rad(k),fill:'#000'},g);
    
    
    const lab=mk('text',{x:p.barLabX,y:p.keyY[i]+13,'font-size':36,fill:'#000'},g,String(k));
    
    
  });
}

drawVolcano({id:'a',seed:3,l:290,r:1532,t:51,b:1115,x0:911,kx:27.75,y0:1068,ky:3.29,xTickY:1159,xTitleY:1210,yTitleX:186,yTitleY:583,legX:1580,legTitleY:500,legY:[569,617,666],legend:aLegend,downSolid:aDownSolid,upSolid:aUpSolid,downMid:aDownMid,upMid:aUpMid,downOuter:aDownOuter,upOuter:aUpOuter,greyFunnel:aGreyFunnel,downBands:aDownBands,upBands:aUpBands,greyStrip:aGreyStrip,downRays:aDownRays,upRays:aUpRays,greyPts:aGreyPts,down:aDown,up:aUp});
drawVolcano({id:'c',seed:11,l:264,r:1506,t:1251,b:2317,x0:884,kx:28.3,y0:2269,ky:3.3,xTickY:2359,xTitleY:2408,yTitleX:163,yTitleY:1783,legX:1555,legTitleY:1700,legY:[1769,1818,1866],legend:cLegend,downSolid:cDownSolid,upSolid:cUpSolid,downMid:cDownMid,upMid:cUpMid,downOuter:cDownOuter,upOuter:cUpOuter,greyFunnel:cGreyFunnel,downBands:cDownBands,upBands:cUpBands,greyStrip:cGreyStrip,downRays:cDownRays,upRays:cUpRays,greyPts:cGreyPts,down:cDown,up:cUp});
drawVolcano({id:'e',seed:23,l:267,r:1510,t:2450,b:3513,x0:889,kx:29.56,y0:3467,ky:3.297,xTickY:3556,xTitleY:3605,yTitleX:166,yTitleY:2980,legX:1559,legTitleY:2899,legY:[2967,3016,3064],legend:eLegend,downSolid:eDownSolid,upSolid:eUpSolid,downMid:eDownMid,upMid:eUpMid,downOuter:eDownOuter,upOuter:eUpOuter,greyFunnel:eGreyFunnel,downBands:eDownBands,upBands:eUpBands,greyStrip:eGreyStrip,downRays:eDownRays,upRays:eUpRays,greyPts:eGreyPts,down:eDown,up:eUp});

drawDots({id:'b',l:3016,r:3794,t:96,b:1135,x45:3038,xRef:.45,kx:3150,row0:127,rowStep:51.47,terms:bTerms,rich:bRich,q:bQ,count:bCount,ticks:bRichTicks,tickDp:2,cMax:7000,xTickY:1177,xTitleX:3406,xTitleY:1225,legX:3842,qTitleY:349,barX:3842,barW:47,barT:393,barB:632,barLabX:3913,qLabY:[398,455,513,571,629],cTitleY:717,keys:bdCountKeys,keyX:3866,keyY:[783,832,881]});
drawDots({id:'d',l:3001,r:3799,t:1283,b:2323,x45:3012,xRef:.45,kx:2844,row0:1315,rowStep:51.50,terms:dTerms,rich:dRich,q:dQ,count:dCount,ticks:dRichTicks,tickDp:2,cMax:7000,xTickY:2366,xTitleX:3401,xTitleY:2414,legX:3846,qTitleY:1536,barX:3846,barW:50,barT:1579,barB:1819,barLabX:3918,qLabY:[1584,1642,1700,1758,1817],cTitleY:1904,keys:bdCountKeys,keyX:3871,keyY:[1971,2019,2068]});
drawDots({id:'f',l:3004,r:3803,t:2466,b:3504,x45:3120,xRef:.4,kx:1628,row0:2497,rowStep:51.47,terms:fTerms,rich:fRich,q:fQ,count:fCount,ticks:fRichTicks,tickDp:1,cMax:5000,xTickY:3546,xTitleX:3405,xTitleY:3595,legX:3852,qTitleY:2694,barX:3850,barW:48,barT:2736,barB:2979,barLabX:3922,qLabY:[2743,2800,2859,2916,2975],cTitleY:3062,keys:fCountKeys,keyX:3874,keyY:[3129,3177,3225,3273]});
</script>
</body>
</html>
